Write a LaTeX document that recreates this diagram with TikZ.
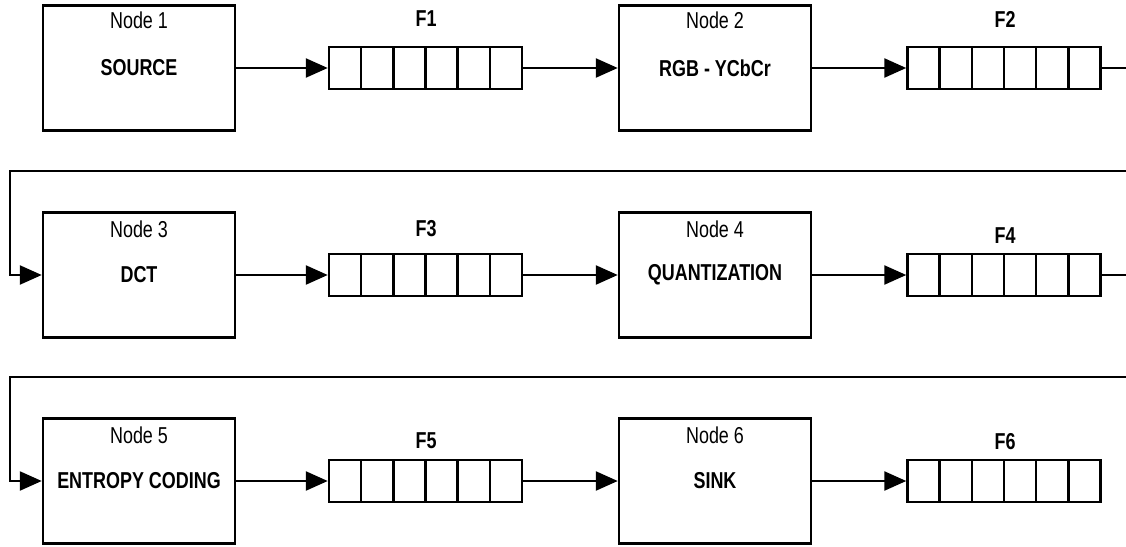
\documentclass[tikz,border=0pt]{standalone}
\usepackage{fontspec}
\setmainfont{Liberation Sans}[FakeStretch=0.78]
\usetikzlibrary{arrows.meta,calc}

\tikzset{
  wire/.style={line width=2.5pt},
  conn/.style={wire,-{Triangle[length=22pt,width=19pt]}},
  stage/.style={draw,line width=2.5pt,minimum width=192pt,minimum height=125pt,
    inner sep=0pt,font=\fontsize{23}{26}\selectfont\bfseries},
  stagetitle/.style={inner sep=0pt,font=\fontsize{23}{26}\selectfont},
  fifo/.style={draw,line width=2.5pt,minimum width=193pt,minimum height=42pt,inner sep=0pt,
    path picture={
      \foreach \i in {1,...,5}{
        \draw[line width=2.5pt]
          ($(path picture bounding box.south west)!\i/6!(path picture bounding box.south east)$) --
          ($(path picture bounding box.north west)!\i/6!(path picture bounding box.north east)$);
      }}},
  fifotitle/.style={inner sep=0pt,font=\fontsize{23}{26}\selectfont\bfseries},
}

\begin{document}
\begin{tikzpicture}[x=1pt,y=-1pt]
\useasboundingbox (0,0) rectangle (1126,546);

% processing stages
\node[stage] (n1) at (139,68)  {SOURCE};
\node[stage] (n2) at (715,68)  {RGB - YCbCr};
\node[stage] (n3) at (139,275) {DCT};
\node[stage] (n4) at (715,275) {QUANTIZATION};
\node[stage] (n5) at (139,481) {ENTROPY CODING};
\node[stage] (n6) at (715,481) {SINK};

\node[stagetitle] (t1) at ([yshift=-16pt]n1.north) {Node 1};
\node[stagetitle] (t2) at ([yshift=-16pt]n2.north) {Node 2};
\node[stagetitle] (t3) at ([yshift=-18pt]n3.north) {Node 3};
\node[stagetitle] (t4) at ([yshift=-18pt]n4.north) {Node 4};
\node[stagetitle] (t5) at ([yshift=-18pt]n5.north) {Node 5};
\node[stagetitle] (t6) at ([yshift=-18pt]n6.north) {Node 6};

% FIFO buffers between stages
\node[fifo] (f1) at (425.5,68)  {};
\node[fifo] (f2) at (1004,68)   {};
\node[fifo] (f3) at (425.5,275) {};
\node[fifo] (f4) at (1004,275)  {};
\node[fifo] (f5) at (425.5,481) {};
\node[fifo] (f6) at (1004,481)  {};

\node[fifotitle] (l1) at (426,19)   {F1};
\node[fifotitle] (l2) at (1005,19)  {F2};
\node[fifotitle] (l3) at (426,229)  {F3};
\node[fifotitle] (l4) at (1005,236) {F4};
\node[fifotitle] (l5) at (426,441)  {F5};
\node[fifotitle] (l6) at (1005,442) {F6};

% data flow
\draw[conn] (n1.east) -- (f1.west);
\draw[conn] (f1.east) -- (n2.west);
\draw[conn] (n2.east) -- (f2.west);
\draw[conn] (n3.east) -- (f3.west);
\draw[conn] (f3.east) -- (n4.west);
\draw[conn] (n4.east) -- (f4.west);
\draw[conn] (n5.east) -- (f5.west);
\draw[conn] (f5.east) -- (n6.west);
\draw[conn] (n6.east) -- (f6.west);

% wrap-around links between rows
\coordinate (r1) at (1140,68);
\coordinate (b1) at (10,171);
\coordinate (r2) at (1140,275);
\coordinate (b2) at (10,377);
\draw[conn] (f2.east) -- (r1) |- (b1) |- (n3.west);
\draw[conn] (f4.east) -- (r2) |- (b2) |- (n5.west);
\end{tikzpicture}
\end{document}
